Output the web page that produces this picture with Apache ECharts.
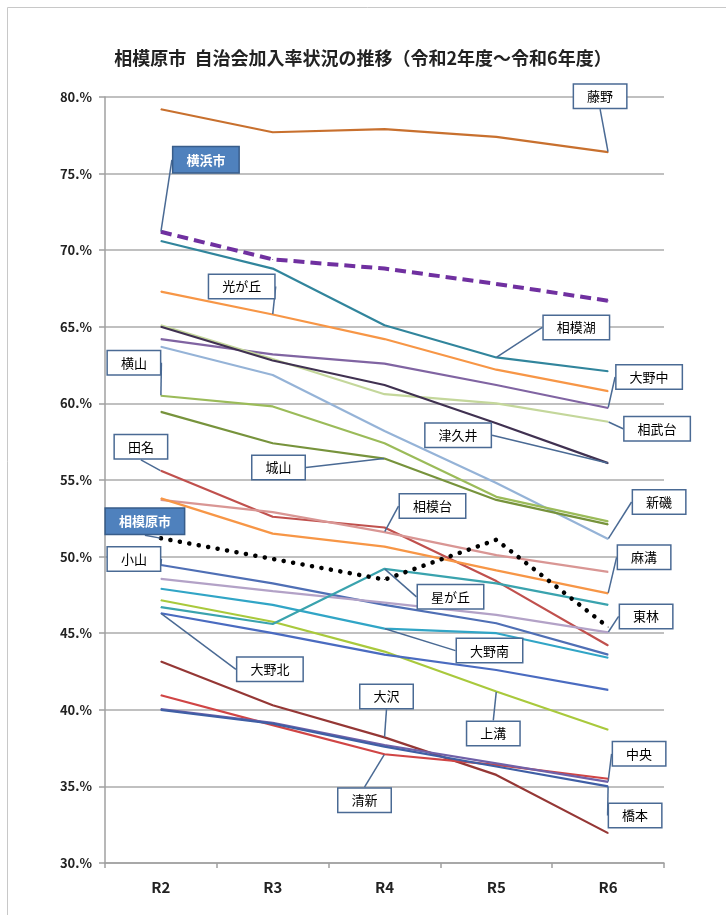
<!DOCTYPE html>
<html>
<head>
<meta charset="utf-8">
<script src="https://cdn.jsdelivr.net/npm/echarts@6/dist/echarts.min.js"></script>
<style>
html,body{margin:0;padding:0;background:#fff;}
#chart{width:726px;height:915px;}
</style>
</head>
<body>
<div id="chart"></div>
<script>
// ---- data ----
const categories = ['R2', 'R3', 'R4', 'R5', 'R6'];
const yTicks = [30, 35, 40, 45, 50, 55, 60, 65, 70, 75, 80];

const fujino      = [79.2, 77.7, 77.9, 77.4, 76.4];
const yokohama    = [71.2, 69.4, 68.8, 67.8, 66.7];
const sagamiko    = [70.6, 68.8, 65.1, 63.0, 62.1];
const hikarigaoka = [67.3, 65.8, 64.2, 62.2, 60.8];
const onochu      = [64.2, 63.2, 62.6, 61.2, 59.7];
const sobudai     = [65.1, 62.9, 60.6, 60.0, 58.8];
const tsukui      = [65.0, 62.8, 61.2, 58.7, 56.1];
const araiso      = [63.7, 61.85, 58.2, 54.8, 51.15];
const yokoyama    = [60.5, 59.8, 57.4, 53.9, 52.3];
const shiroyama   = [59.45, 57.4, 56.4, 53.7, 52.1];
const tana        = [55.6, 52.6, 51.9, 48.4, 44.2];
const sagamidai   = [53.7, 52.9, 51.6, 50.1, 49.0];
const asamizo     = [53.8, 51.5, 50.65, 49.1, 47.6];
const sagamihara  = [51.2, 49.85, 48.5, 51.1, 45.4];
const oyama       = [49.45, 48.25, 46.85, 45.65, 43.6];
const tourin      = [48.55, 47.75, 47.0, 46.2, 45.05];
const ononan      = [47.9, 46.85, 45.3, 45.0, 43.4];
const kamimizo    = [47.15, 45.75, 43.8, 41.2, 38.7];
const hoshigaoka  = [46.7, 45.6, 49.2, 48.25, 46.85];
const onokita     = [46.3, 45.0, 43.6, 42.6, 41.3];
const osawa       = [43.15, 40.3, 38.2, 35.75, 31.95];
const seishin     = [40.95, 39.0, 37.1, 36.4, 35.5];
const chuo        = [40.05, 39.15, 37.7, 36.5, 35.3];
const hashimoto   = [40.0, 39.1, 37.6, 36.3, 35.0];

// ---- styling / label placement ----
const FONT = '"Noto Sans CJK JP", "Noto Sans", sans-serif';
const defs = [
  {name:'藤野',   data:fujino,      color:'#C8702E', at:4, dx:-8,   dy:-56},
  {name:'相模湖', data:sagamiko,    color:'#31859C', at:3, dx:80,   dy:-30},
  {name:'光が丘', data:hikarigaoka, color:'#F79646', at:1, dx:-31,  dy:-28},
  {name:'大野中', data:onochu,      color:'#8064A2', at:4, dx:41,   dy:-31},
  {name:'相武台', data:sobudai,     color:'#C4D79B', at:4, dx:49,   dy:7},
  {name:'津久井', data:tsukui,      color:'#403151', at:4, dx:-150, dy:-28},
  {name:'新磯',   data:araiso,      color:'#95B3D7', at:4, dx:51,   dy:-37},
  {name:'横山',   data:yokoyama,    color:'#9BBB59', at:0, dx:-27,  dy:-33},
  {name:'城山',   data:shiroyama,   color:'#77933C', at:2, dx:-106, dy:9},
  {name:'田名',   data:tana,        color:'#C0504D', at:0, dx:-20,  dy:-24},
  {name:'相模台', data:sagamidai,   color:'#D99694', at:2, dx:48,   dy:-26},
  {name:'麻溝',   data:asamizo,     color:'#F79646', at:4, dx:36,   dy:-36},
  {name:'小山',   data:oyama,       color:'#4F6FB5', at:0, dx:-27,  dy:-6},
  {name:'東林',   data:tourin,      color:'#B3A2C7', at:4, dx:38,   dy:-16},
  {name:'大野南', data:ononan,      color:'#31A5C6', at:2, dx:105,  dy:22},
  {name:'上溝',   data:kamimizo,    color:'#A9C93C', at:3, dx:-3,   dy:42},
  {name:'星が丘', data:hoshigaoka,  color:'#3AA3AE', at:2, dx:66,   dy:28},
  {name:'大野北', data:onokita,     color:'#4A6BC0', at:0, dx:109,  dy:56},
  {name:'大沢',   data:osawa,       color:'#953735', at:2, dx:2,    dy:-41},
  {name:'清新',   data:seishin,     color:'#D04545', at:2, dx:-20,  dy:46},
  {name:'中央',   data:chuo,        color:'#7060A8', at:4, dx:31,   dy:-28},
  {name:'橋本',   data:hashimoto,   color:'#3F5FA5', at:4, dx:27,   dy:29},
  {name:'横浜市', data:yokohama,    color:'#7030A0', at:0, dx:45,   dy:-72, special:true, dash:[11,6], width:4},
  {name:'相模原市', data:sagamihara, color:'#000000', at:0, dx:-16, dy:-17, special:true, dash:[0.1,9.5], width:4.5, round:true}
];

const series = defs.map((d, k) => {
  const labelStyle = d.special ? {
    backgroundColor:'#4F81BD', borderColor:'#385D8A', borderWidth:1.5,
    color:'#fff', fontWeight:'bold', padding:[6,13]
  } : {
    backgroundColor:'#fff', borderColor:'#4A6A94', borderWidth:1.5,
    color:'#000', fontWeight:'normal', padding:[5,13]
  };
  return {
    type:'line',
    name:d.name,
    data:d.data.map((v, i) => i === d.at
      ? {value:v, label:{show:true}, labelLine:{show:true}}
      : v),
    symbol:'circle',
    symbolSize:1,
    showSymbol:true,
    itemStyle:{color:d.color},
    lineStyle:{color:d.color, width:d.width || 2.2, type:d.dash || 'solid', cap:d.round ? 'round' : 'butt'},
    z: d.special ? 5 : 3,
    label:Object.assign({
      show:false, position:'inside', formatter:d.name,
      fontSize:13, fontFamily:FONT, textBorderWidth:0
    }, labelStyle),
    labelLine:{show:true, lineStyle:{color:'#4A6A94', width:1.5}},
    labelLayout:(p) => p.dataIndex === d.at ? {dx:d.dx, dy:d.dy} : {},
    emphasis:{disabled:true},
    silent:true
  };
});

const chart = echarts.init(document.getElementById('chart'), null, {renderer:'canvas'});
chart.setOption({
  animation:false,
  backgroundColor:'#fff',
  title:{
    text:'相模原市  自治会加入率状況の推移（令和2年度～令和6年度）',
    left:'center', top:44,
    textStyle:{fontSize:18, fontWeight:'bold', color:'#222', fontFamily:FONT}
  },
  graphic:[{
    type:'rect', shape:{x:7.5, y:7.5, width:740, height:940},
    style:{fill:'none', stroke:'#C8C8C8', lineWidth:1}, silent:true
  }],
  grid:{left:105, right:62, top:97, bottom:52, containLabel:false},
  xAxis:{
    type:'category', data:categories, boundaryGap:true,
    axisLine:{lineStyle:{color:'#A0A0A0', width:1.5}},
    axisTick:{show:true, length:5, lineStyle:{color:'#A0A0A0', width:1.5}},
    axisLabel:{fontSize:15, fontWeight:'bold', color:'#222', margin:17, fontFamily:FONT},
    splitLine:{show:false}
  },
  yAxis:{
    type:'value', min:yTicks[0], max:yTicks[yTicks.length-1], interval:5,
    axisLine:{show:true, lineStyle:{color:'#A0A0A0', width:1.5}},
    axisTick:{show:true, length:6, lineStyle:{color:'#A0A0A0', width:1.5}},
    axisLabel:{fontSize:13, fontWeight:'bold', color:'#222', margin:13, fontFamily:FONT,
      formatter:(v) => v + '.%'},
    splitLine:{show:true, lineStyle:{color:'#ABABAB', width:1.5}}
  },
  series:series
});
</script>
</body>
</html>
